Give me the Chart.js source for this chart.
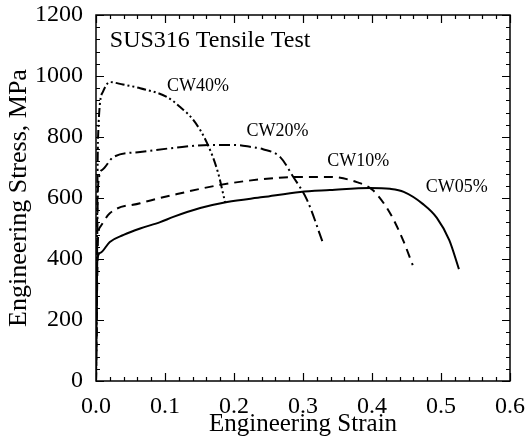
<!DOCTYPE html>
<html lang="en">
<head>
    <meta charset="UTF-8">
    <title>SUS316 Tensile Test</title>
    <script src="https://cdn.jsdelivr.net/npm/chart.js"></script>
    <style>
        body { margin: 0; background: #fff; }
        #wrap { width: 528px; height: 445px; }
    </style>
</head>
<body>
<div id="wrap"><canvas id="stressChart"></canvas></div>
<script>
// curves (strain, stress in MPa)
const cw05Strain = [0, 0.002, 0.006, 0.02, 0.04, 0.064, 0.093, 0.112, 0.151, 0.19, 0.242, 0.296, 0.339, 0.397, 0.426, 0.446, 0.474, 0.494, 0.512, 0.526];
const cw05Stress = [0, 400, 420, 456, 479, 500, 521, 538, 567, 587, 603, 620, 626, 633, 630, 620, 580, 535, 462, 367];

const cw10Strain = [0, 0.003, 0.006, 0.02, 0.064, 0.112, 0.18, 0.242, 0.29, 0.339, 0.378, 0.401, 0.426, 0.445, 0.459];
const cw10Stress = [0, 470, 505, 550, 583, 610, 643, 662, 669, 669, 652, 626, 551, 462, 380];

const cw20Strain = [0, 0.003, 0.009, 0.025, 0.064, 0.112, 0.165, 0.199, 0.223, 0.242, 0.267, 0.286, 0.306, 0.329];
const cw20Stress = [0, 640, 692, 734, 751, 764, 774, 774, 768, 760, 734, 669, 593, 452];

const cw40Strain = [0, 0.003, 0.01, 0.02, 0.039, 0.064, 0.103, 0.122, 0.141, 0.161, 0.177, 0.187];
const cw40Stress = [0, 800, 948, 980, 972, 960, 931, 898, 856, 780, 682, 586];

const xTicks = [0, 0.1, 0.2, 0.3, 0.4, 0.5, 0.6];
const yTicks = [0, 200, 400, 600, 800, 1000, 1200];
const xMinorStep = 0.02;
const yMinorStep = 40;

// curve names and where they are written (data coords)
const curveNames = ['CW05%', 'CW10%', 'CW20%', 'CW40%'];
const nameX = [0.478, 0.335, 0.218, 0.103];
const nameY = [636, 722, 820, 965];

const serif = '"Liberation Serif", "Times New Roman", serif';

function pts(xs, ys) {
    return xs.map((x, i) => ({x: x, y: ys[i]}));
}

function line(label, xs, ys, dash) {
    return {
        label: label,
        data: pts(xs, ys),
        showLine: true,
        borderColor: '#000',
        borderWidth: 2,
        borderDash: dash,
        pointRadius: 0,
        cubicInterpolationMode: 'monotone',
        fill: false
    };
}

// inward ticks on all four sides, plus the text labels
const decorate = {
    id: 'decorate',
    afterDraw(chart) {
        const ctx = chart.ctx;
        const a = chart.chartArea;
        const xs = chart.scales.x, ys = chart.scales.y;
        ctx.save();
        ctx.strokeStyle = '#000';
        ctx.lineWidth = 1.5;
        ctx.strokeRect(a.left, a.top, a.right - a.left, a.bottom - a.top);
        ctx.lineWidth = 1.2;
        ctx.beginPath();
        for (let v = 0; v <= 0.6001; v += xMinorStep) {
            const major = xTicks.some(t => Math.abs(t - v) < 1e-6);
            const len = major ? 8 : 4;
            const px = Math.round(xs.getPixelForValue(v)) + 0.5;
            ctx.moveTo(px, a.bottom); ctx.lineTo(px, a.bottom - len);
            ctx.moveTo(px, a.top); ctx.lineTo(px, a.top + len);
        }
        for (let v = 0; v <= 1200.1; v += yMinorStep) {
            const major = yTicks.some(t => Math.abs(t - v) < 1e-6);
            const len = major ? 8 : 4;
            const py = Math.round(ys.getPixelForValue(v)) + 0.5;
            ctx.moveTo(a.left, py); ctx.lineTo(a.left + len, py);
            ctx.moveTo(a.right, py); ctx.lineTo(a.right - len, py);
        }
        ctx.stroke();

        ctx.fillStyle = '#000';
        ctx.textBaseline = 'middle';
        ctx.textAlign = 'left';
        ctx.font = '24px ' + serif;
        ctx.fillText('SUS316 Tensile Test', xs.getPixelForValue(0.02), ys.getPixelForValue(1117));
        ctx.font = '18px ' + serif;
        curveNames.forEach((n, i) => {
            ctx.fillText(n, xs.getPixelForValue(nameX[i]), ys.getPixelForValue(nameY[i]));
        });
        ctx.restore();
    }
};

new Chart(document.getElementById('stressChart'), {
    type: 'scatter',
    data: {
        datasets: [
            line('CW05%', cw05Strain, cw05Stress, []),
            line('CW10%', cw10Strain, cw10Stress, [9, 6]),
            line('CW20%', cw20Strain, cw20Stress, [11, 4, 2, 4]),
            line('CW40%', cw40Strain, cw40Stress, [9, 3, 2, 3, 2, 3])
        ]
    },
    options: {
        responsive: true,
        maintainAspectRatio: false,
        animation: false,
        layout: { padding: { top: 15, right: 18, left: 0, bottom: 0 } },
        plugins: { legend: { display: false }, tooltip: { enabled: false } },
        scales: {
            x: {
                type: 'linear',
                min: 0, max: 0.6,
                afterFit(s) { s.height = 64; s.paddingLeft = 0; s.paddingRight = 0; },
                afterBuildTicks(s) { s.ticks = xTicks.map(v => ({value: v})); },
                grid: { display: false },
                border: { display: false },
                ticks: {
                    color: '#000',
                    padding: 3,
                    font: { family: serif, size: 24 },
                    callback: v => v.toFixed(1)
                },
                title: {
                    display: true,
                    text: 'Engineering Strain',
                    color: '#000',
                    padding: { top: 0, bottom: 6 },
                    font: { family: serif, size: 25 }
                }
            },
            y: {
                type: 'linear',
                min: 0, max: 1200,
                afterFit(s) { s.width = 96; s.paddingTop = 0; s.paddingBottom = 0; },
                afterBuildTicks(s) { s.ticks = yTicks.map(v => ({value: v})); },
                grid: { display: false },
                border: { display: false },
                ticks: {
                    color: '#000',
                    padding: 5,
                    font: { family: serif, size: 24 },
                    callback: v => String(v)
                },
                title: {
                    display: true,
                    text: 'Engineering Stress, MPa',
                    color: '#000',
                    padding: { top: 4, bottom: 0 },
                    font: { family: serif, size: 26 }
                }
            }
        }
    },
    plugins: [decorate]
});
</script>
</body>
</html>
